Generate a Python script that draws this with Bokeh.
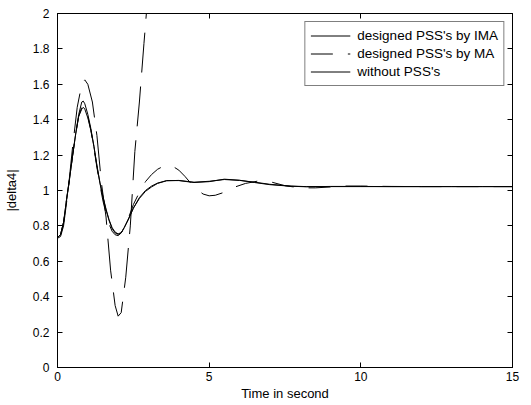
from bokeh.plotting import figure
from bokeh.models import Range1d, LinearAxis, FixedTicker, Legend, LegendItem
from bokeh.embed import file_html
from bokeh.resources import INLINE

# ---- data ----
t_ima = [0, 0.1, 0.2, 0.3, 0.4, 0.5, 0.6, 0.7, 0.8, 0.85, 0.9, 1.0, 1.1, 1.2, 1.3, 1.4, 1.5,
         1.6, 1.7, 1.8, 1.9, 2.0, 2.1, 2.2, 2.35, 2.5, 2.7, 2.9, 3.1, 3.3, 3.6, 4.0, 4.5,
         5.0, 5.5, 6.0, 6.5, 7.0, 7.7, 8.2, 9, 10, 11, 12, 13, 14, 15]
y_ima = [0.735, 0.75, 0.82, 0.95, 1.07, 1.2, 1.32, 1.42, 1.46, 1.47, 1.46, 1.41, 1.34, 1.25, 1.14,
         1.04, 0.96, 0.89, 0.83, 0.785, 0.76, 0.752, 0.76, 0.79, 0.84, 0.9, 0.955, 0.995, 1.02,
         1.04, 1.055, 1.057, 1.047, 1.052, 1.062, 1.057, 1.047, 1.035, 1.025, 1.022, 1.022,
         1.022, 1.022, 1.022, 1.022, 1.022, 1.022]

t_wo = [0, 0.1, 0.2, 0.3, 0.4, 0.5, 0.6, 0.7, 0.8, 0.85, 0.9, 1.0, 1.1, 1.2, 1.3, 1.4, 1.5,
        1.6, 1.7, 1.8, 1.9, 2.0, 2.1, 2.2, 2.35, 2.5, 2.7, 2.9, 3.1, 3.3, 3.6, 4.0, 4.5,
        5.0, 5.5, 6.0, 6.5, 7.0, 7.7, 8.2, 9, 10, 11, 12, 13, 14, 15]
y_wo = [0.735, 0.75, 0.82, 0.95, 1.07, 1.2, 1.32, 1.43, 1.5, 1.505, 1.49, 1.43, 1.35, 1.25, 1.14,
        1.045, 0.965, 0.895, 0.835, 0.79, 0.765, 0.755, 0.762, 0.79, 0.845, 0.9, 0.96, 1.0, 1.025,
        1.042, 1.056, 1.056, 1.045, 1.05, 1.064, 1.058, 1.045, 1.033, 1.024, 1.021, 1.023,
        1.023, 1.022, 1.022, 1.022, 1.022, 1.022]

t_ma = [0, 0.1, 0.2, 0.3, 0.4, 0.5, 0.6, 0.7, 0.8, 0.85, 0.9, 1.0, 1.1, 1.2, 1.3, 1.4, 1.5,
        1.6, 1.7, 1.8, 1.9, 2.0, 2.1, 2.2, 2.35, 2.5, 2.7, 2.9, 3.1, 3.3, 3.5, 3.75, 4.0,
        4.2, 4.4, 4.6, 4.8, 5.0, 5.2, 5.5, 5.8, 6.2, 6.6, 7.0, 7.5, 8.0, 8.5, 9.0, 9.5,
        10, 11, 12, 13, 15]
y_ma = [0.735, 0.75, 0.82, 0.95, 1.07, 1.2, 1.32, 1.42, 1.47, 1.48, 1.47, 1.42, 1.34, 1.24, 1.13,
        1.03, 0.94, 0.87, 0.81, 0.77, 0.75, 0.745, 0.76, 0.79, 0.85, 0.92, 0.99, 1.05, 1.09,
        1.12, 1.138, 1.142, 1.115, 1.08, 1.04, 1.005, 0.98, 0.97, 0.973, 0.99, 1.017, 1.04,
        1.053, 1.05, 1.027, 1.015, 1.015, 1.02, 1.025, 1.025, 1.023, 1.022, 1.022, 1.022]

t_un = [0, 0.1, 0.2, 0.35, 0.5, 0.65, 0.8, 0.9, 1.0, 1.15, 1.3, 1.45, 1.6, 1.75, 1.9, 2.0,
        2.1, 2.25, 2.4, 2.55, 2.7, 2.85, 3.0]
y_un = [0.73, 0.74, 0.8, 1.0, 1.25, 1.47, 1.6, 1.625, 1.6, 1.5, 1.31, 1.04, 0.85, 0.55, 0.35,
        0.29, 0.31, 0.51, 0.8, 1.22, 1.5, 1.83, 2.15]

legend_labels = ["designed PSS's by IMA", "designed PSS's by MA", "without PSS's"]
x_ticks = [0, 5, 10, 15]
y_ticks = [0, 0.2, 0.4, 0.6, 0.8, 1, 1.2, 1.4, 1.6, 1.8, 2]
y_tick_labels = ["0", "0.2", "0.4", "0.6", "0.8", "1", "1.2", "1.4", "1.6", "1.8", "2"]
x_label = "Time in second"
y_label = "|delta4|"

FONT = "Liberation Sans"

p = figure(frame_width=455, frame_height=354, output_backend="svg", toolbar_location=None,
           x_range=Range1d(0, 15), y_range=Range1d(0, 2),
           min_border_left=57, min_border_right=17, min_border_top=13, min_border_bottom=36,
           x_axis_label=x_label, y_axis_label=y_label)
p.grid.visible = False
p.outline_line_color = "black"
p.outline_line_width = 1
p.background_fill_color = "white"
p.border_fill_color = "white"

for ax in [p.xaxis[0], p.yaxis[0]]:
    ax.major_tick_in = 5
    ax.major_tick_out = 0
    ax.minor_tick_in = 0
    ax.minor_tick_out = 0
    ax.axis_line_color = "black"
    ax.major_tick_line_color = "black"
    ax.major_label_text_font = FONT
    ax.major_label_text_font_size = "12px"
    ax.major_label_text_color = "black"
    ax.axis_label_text_font = FONT
    ax.axis_label_text_font_size = "13px"
    ax.axis_label_text_font_style = "normal"
    ax.axis_label_text_color = "black"

p.xaxis[0].ticker = FixedTicker(ticks=x_ticks)
p.xaxis[0].major_label_standoff = 4
p.xaxis[0].axis_label_standoff = 2
p.yaxis[0].ticker = FixedTicker(ticks=y_ticks)
p.yaxis[0].major_label_overrides = {v: s for v, s in zip(y_ticks, y_tick_labels)}
p.yaxis[0].major_label_standoff = 8
p.yaxis[0].axis_label_standoff = 11

# box-style extra axes: inward ticks only (drawn as minor ticks, so no labels)
top = LinearAxis(ticker=FixedTicker(ticks=[], minor_ticks=x_ticks))
right = LinearAxis(ticker=FixedTicker(ticks=[], minor_ticks=y_ticks))
for ax in [top, right]:
    ax.major_tick_in = 0
    ax.major_tick_out = 0
    ax.minor_tick_in = 5
    ax.minor_tick_out = 0
    ax.major_label_standoff = 0
    ax.axis_line_color = "black"
    ax.minor_tick_line_color = "black"
p.add_layout(top, "above")
p.add_layout(right, "right")

r_ima = p.line(t_ima, y_ima, line_color="black", line_width=1)
r_ma = p.line(t_ma, y_ma, line_color="black", line_width=1, line_dash="22 15")
r_wo = p.line(t_wo, y_wo, line_color="black", line_width=1)
r_un = p.line(t_un, y_un, line_color="black", line_width=1, line_dash="40 14")

legend = Legend(items=[LegendItem(label=legend_labels[0], renderers=[r_ima]),
                       LegendItem(label=legend_labels[1], renderers=[r_ma]),
                       LegendItem(label=legend_labels[2], renderers=[r_wo])],
                location="top_right")
legend.margin = 8
legend.padding = 5
legend.spacing = 1
legend.glyph_width = 40
legend.glyph_height = 17
legend.label_height = 17
legend.label_standoff = 7
legend.label_text_font = FONT
legend.label_text_font_size = "13.5px"
legend.label_text_color = "black"
legend.border_line_color = "black"
legend.border_line_width = 1
legend.background_fill_alpha = 1
p.add_layout(legend)

open("out.html", "w").write(file_html(p, INLINE))
